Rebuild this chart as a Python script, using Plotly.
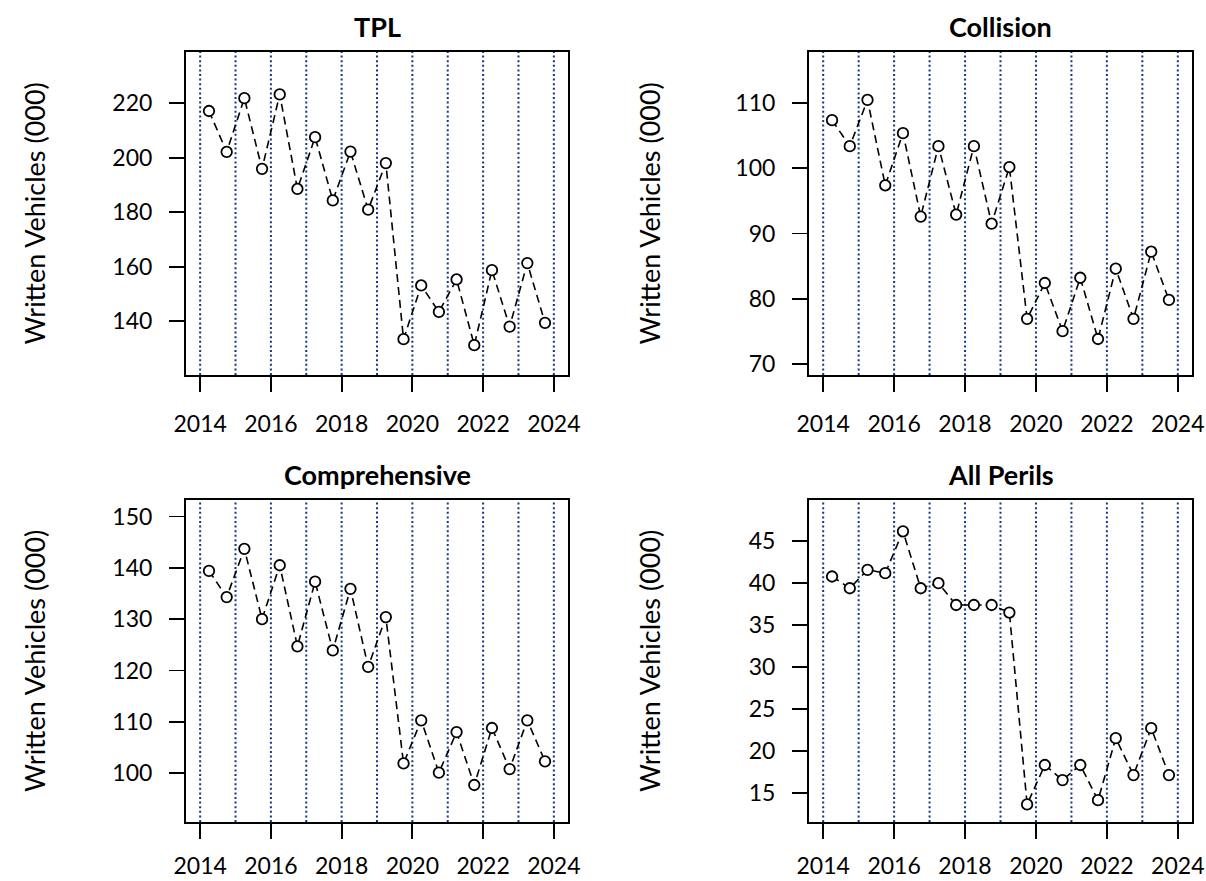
import plotly.graph_objects as go

# ---------------- data ----------------
period_labels = ["2014 H1", "2014 H2", "2015 H1", "2015 H2", "2016 H1", "2016 H2",
                 "2017 H1", "2017 H2", "2018 H1", "2018 H2", "2019 H1", "2019 H2",
                 "2020 H1", "2020 H2", "2021 H1", "2021 H2", "2022 H1", "2022 H2",
                 "2023 H1", "2023 H2"]

tpl = [217.1, 202.1, 221.8, 195.9, 223.2, 188.5, 207.5, 184.3, 202.2, 180.9,
       198.0, 133.4, 153.1, 143.4, 155.3, 131.2, 158.7, 138.0, 161.3, 139.4]
collision = [107.4, 103.4, 110.5, 97.4, 105.4, 92.6, 103.4, 92.9, 103.4, 91.5,
             100.2, 76.9, 82.4, 75.0, 83.2, 73.8, 84.6, 76.9, 87.2, 79.8]
comprehensive = [139.4, 134.3, 143.7, 130.0, 140.5, 124.7, 137.3, 123.9, 135.9, 120.7,
                 130.4, 101.9, 110.3, 100.1, 108.0, 97.7, 108.8, 100.8, 110.3, 102.3]
all_perils = [40.8, 39.4, 41.6, 41.2, 46.2, 39.4, 40.0, 37.4, 37.4, 37.4,
              36.5, 13.6, 18.3, 16.5, 18.3, 14.1, 21.5, 17.1, 22.7, 17.1]

panel_titles = ["TPL", "Collision", "Comprehensive", "All Perils"]
x_tick_vals = [2014, 2016, 2018, 2020, 2022, 2024]
year_lines = [2014, 2015, 2016, 2017, 2018, 2019, 2020, 2021, 2022, 2023, 2024]
y_ticks_tpl = [140, 160, 180, 200, 220]
y_ticks_collision = [70, 80, 90, 100, 110]
y_ticks_comprehensive = [100, 110, 120, 130, 140, 150]
y_ticks_all_perils = [15, 20, 25, 30, 35, 40, 45]
y_title = "Written Vehicles (000)"

# ---------------- layout helpers ----------------
W, H = 1206, 881
FONT = "Lato"
series = [tpl, collision, comprehensive, all_perils]
yticks = [y_ticks_tpl, y_ticks_collision, y_ticks_comprehensive, y_ticks_all_perils]

# pixel boxes (left, right, top, bottom) and y-title x centre
boxes = [(186, 568, 52, 375), (809, 1192, 52, 375),
         (186, 568, 500, 822), (809, 1192, 500, 822)]
ytitle_x = [34, 649, 34, 649]
x_label_standoff = [12, 12, 7, 7]

x_vals = [int(p[:4]) + (0.25 if p.endswith("H1") else 0.75) for p in period_labels]

fig = go.Figure()
annotations = []
shapes = []
for i, (vals, ttl, ytv, box) in enumerate(zip(series, panel_titles, yticks, boxes)):
    n = i + 1
    xa = "x" if n == 1 else f"x{n}"
    ya = "y" if n == 1 else f"y{n}"
    l, r, t, b = box
    lo, hi = min(vals) * 0.95, max(vals) * 1.05
    pad = (hi - lo) * 0.04
    yr = [lo - pad, hi + pad]
    xr = [2014 - 0.4, 2024 + 0.4]

    # vertical dotted year lines
    for yl in year_lines:
        shapes.append(dict(type="line", xref=xa, yref=ya, x0=yl, x1=yl, y0=yr[0], y1=yr[1],
                           line=dict(color="#123585", width=2, dash="2px,2.6px"), layer="below"))

    fig.add_trace(go.Scatter(
        x=x_vals, y=vals, mode="lines+markers", xaxis=xa, yaxis=ya, showlegend=False,
        hoverinfo="skip",
        line=dict(color="black", width=1.6, dash="8px,5px"),
        marker=dict(symbol="circle", size=10.5, color="white",
                    line=dict(color="black", width=1.8)),
    ))

    axis_common = dict(showline=True, linecolor="black", linewidth=2, mirror=True,
                       ticks="outside", ticklen=15, tickwidth=1.8, tickcolor="black",
                       showgrid=False, zeroline=False, automargin=False,
                       tickfont=dict(family=FONT, size=23, color="black"))
    fig.layout[("xaxis" if n == 1 else f"xaxis{n}")] = dict(
        domain=[l / W, r / W], range=xr, anchor=ya, tickvals=x_tick_vals,
        ticklabelstandoff=x_label_standoff[i], **axis_common)
    fig.layout[("yaxis" if n == 1 else f"yaxis{n}")] = dict(
        domain=[1 - b / H, 1 - t / H], range=yr, anchor=xa, tickvals=ytv,
        ticklabelstandoff=12, **axis_common)

    annotations.append(dict(text=f"<b>{ttl}</b>", x=(l + r) / 2 / W, y=1 - (t - 26) / H,
                            xref="paper", yref="paper", showarrow=False,
                            xanchor="center", yanchor="middle",
                            font=dict(family=FONT, size=27, color="black")))
    annotations.append(dict(text=y_title, x=ytitle_x[i] / W, y=1 - (t + b) / 2 / H,
                            xref="paper", yref="paper", showarrow=False, textangle=-90,
                            xanchor="center", yanchor="middle",
                            font=dict(family=FONT, size=27, color="black")))

fig.update_layout(width=W, height=H, autosize=False,
                  margin=dict(l=0, r=0, t=0, b=0, pad=0, autoexpand=False),
                  paper_bgcolor="white", plot_bgcolor="white",
                  annotations=annotations, shapes=shapes)

fig.write_html("out.html", config={"displayModeBar": False, "staticPlot": True},
               post_script="document.body.style.margin='0';document.body.style.overflow='hidden';")
